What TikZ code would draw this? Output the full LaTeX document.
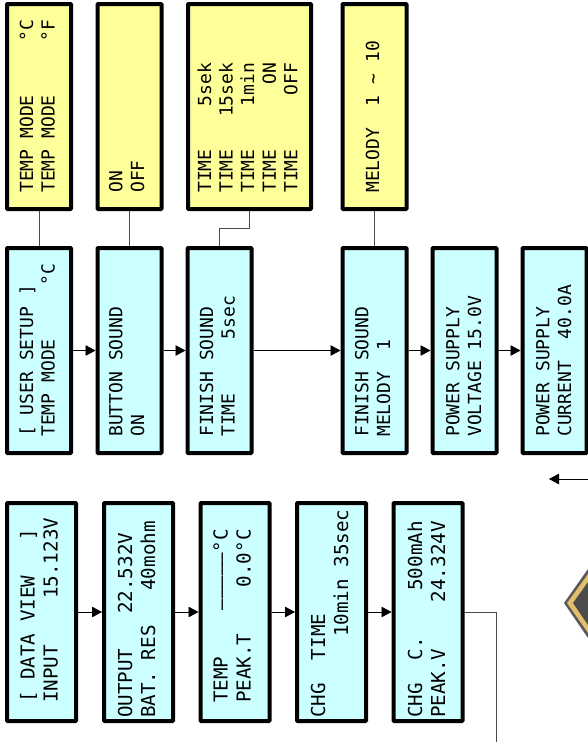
\documentclass[tikz,border=0pt]{standalone}
\usepackage{fontspec}
\setmonofont{DejaVu Sans Mono}
\usepackage{xcolor}
\usetikzlibrary{arrows.meta}
\definecolor{lcdcyan}{HTML}{CCFFFF}
\definecolor{lcdyellow}{HTML}{FFFF99}
\definecolor{rimgold}{HTML}{E3BE6E}
\tikzset{
  lcdbox/.style={draw=black, line width=4pt, rounded corners=0.8pt, rotate=90, inner sep=0pt},
  cyanbox/.style={lcdbox, fill=lcdcyan, minimum width=205pt, minimum height=64pt},
  viewbox/.style={lcdbox, fill=lcdcyan, minimum width=218pt, minimum height=69pt},
  yellowbox/.style={lcdbox, fill=lcdyellow, minimum width=205pt, minimum height=64pt},
  lcdtext/.style={rotate=90, anchor=base west, inner sep=0pt, align=left,
    font=\ttfamily\fontsize{18}{21.6}\selectfont},
  viewtext/.style={lcdtext, font=\ttfamily\fontsize{19.2}{23}\selectfont},
  flow/.style={draw=black, line width=0.8pt, -{Triangle[length=10pt,width=10.5pt]}},
  link/.style={draw=black!70, line width=0.8pt}
}
\begin{document}
\begin{tikzpicture}[x=1pt, y=-1pt]
\useasboundingbox (0,0) rectangle (588,742);
\clip (0,0) rectangle (588,742);

% Option boxes
\node[yellowbox] (tempopt) at (39,106.5) {};
\node[yellowbox] (soundopt) at (129.5,106.5) {};
\node[yellowbox, minimum height=123pt] (timeopt) at (249.5,106.5) {};
\node[yellowbox] (melodyopt) at (374.5,106.5) {};

% Option texts
\node[lcdtext] (temptext) at (54.6,193) {TEMP MODE~~~~~°C\\TEMP MODE~~~~~°F};
\node[lcdtext] (soundtext) at (144,193) {ON\\OFF};
\node[lcdtext] (timetext) at (297.4,193) {TIME~~~~5sek\\TIME~~~15sek\\TIME~~~~1min\\TIME~~~~~~ON\\TIME~~~~~OFF};
\node[lcdtext] (melodytext) at (379,193) {MELODY~~1 \textasciitilde{} 10};

% User setup row
\node[cyanbox] (setup) at (39,350.5) {};
\node[cyanbox] (button) at (129.5,350.5) {};
\node[cyanbox] (finishtime) at (219.5,350.5) {};
\node[cyanbox] (finishmelody) at (374.5,350.5) {};
\node[cyanbox] (voltage) at (464.5,350.5) {};
\node[cyanbox] (current) at (554.5,350.5) {};

\node[lcdtext] (setuptext) at (54.6,437) {[ USER SETUP ]\\TEMP MODE~~~~~°C};
\node[lcdtext] (buttontext) at (144,437) {BUTTON SOUND\\ON};
\node[lcdtext] (finishtimetext) at (234.6,437) {FINISH SOUND\\TIME~~~~~5sec};
\node[lcdtext] (finishmelodytext) at (390,437) {FINISH SOUND\\MELODY~~1};
\node[lcdtext] (voltagetext) at (481,437) {POWER SUPPLY\\VOLTAGE 15.0V};
\node[lcdtext] (currenttext) at (571,437) {POWER SUPPLY\\CURRENT~~40.0A};

% Data view row
\node[viewbox] (input) at (41.5,612) {};
\node[viewbox] (output) at (138.5,612) {};
\node[viewbox] (temp) at (235,612) {};
\node[viewbox] (chgtime) at (331.5,612) {};
\node[viewbox] (chgc) at (428,612) {};

\node[viewtext] (inputtext) at (57.5,703) {[ DATA VIEW~~~]\\INPUT~~~~15.123V};
\node[viewtext] (outputtext) at (155,718) {OUTPUT~~~22.532V\\BAT. RES~~~40mohm};
\node[viewtext] (temptextb) at (250.5,703) {TEMP~~~~–––––°C\\PEAK.T~~~~0.0°C};
\node[viewtext] (chgtimetext) at (348,718) {CHG~~TIME\\~~~~~~~10min 35sec};
\node[viewtext] (chgctext) at (445,718) {CHG~~C.~~~~500mAh\\PEAK.V~~~~24.324V};

% Links to the options
\draw[link] (tempopt.west) -- (setup.east);
\draw[link] (soundopt.west) -- (button.east);
\draw[link] (timeopt.west) -- ++(0,17) -| (finishtime.east);
\draw[link] (melodyopt.west) -- (finishmelody.east);

% Arrows of the setup row
\draw[flow] (setup.south) -- (button.north);
\draw[flow] (button.south) -- (finishtime.north);
\draw[flow] (finishtime.south) -- (finishmelody.north);
\draw[flow] (finishmelody.south) -- (voltage.north);
\draw[flow] (voltage.south) -- (current.north);

% Arrows of the data view row
\draw[flow] (input.south) -- (output.north);
\draw[flow] (output.south) -- (temp.north);
\draw[flow] (temp.south) -- (chgtime.north);
\draw[flow] (chgtime.south) -- (chgc.north);

% Free ends
\coordinate (loopend) at (496,742);
\coordinate (returnstart) at (588,479);
\coordinate (returntip) at (549,479);
\draw[link] (chgc.south) -| (loopend);
\draw[flow] (returnstart) -- (returntip);

% Diamond at the edge
\fill[black!65] (564,603) -- (588,569) -- (588,638) -- cycle;
\fill[rimgold] (567,603) -- (588,574) -- (588,633) -- cycle;
\fill[black!70] (573,603) -- (588,582) -- (588,625) -- cycle;
\end{tikzpicture}
\end{document}
